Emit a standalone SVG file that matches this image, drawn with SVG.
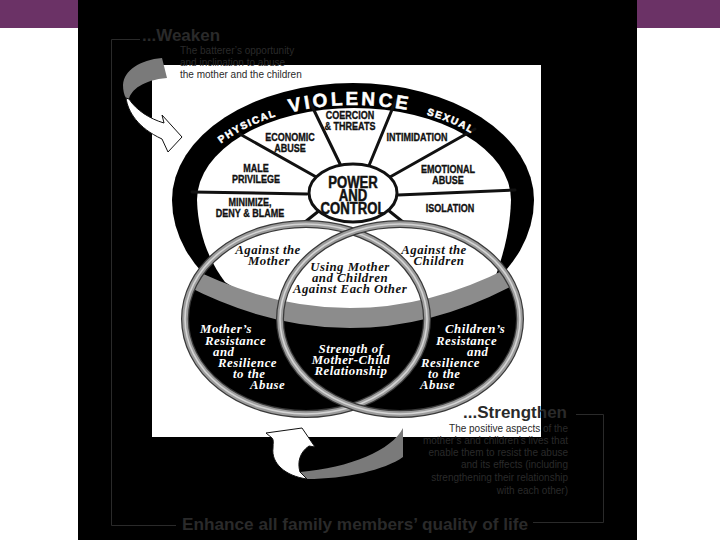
<svg xmlns="http://www.w3.org/2000/svg" width="720" height="540" viewBox="0 0 720 540">
<defs>
<style>
.wl{font-family:"Liberation Sans",Arial,sans-serif;font-weight:bold;font-size:11px;text-anchor:middle;fill:#111;stroke:#111;stroke-width:0.35px}
.pc{font-size:16px;stroke-width:0.5px}
.rt{font-family:"Liberation Sans",Arial,sans-serif;font-weight:bold;fill:#fff;stroke:#fff;stroke-width:0.5px;text-anchor:middle}
.ct{font-family:"Liberation Serif","DejaVu Serif",serif;font-weight:bold;font-style:italic;font-size:12.8px;letter-spacing:0.5px}
.cb{fill:#111;text-anchor:middle}
.cw{fill:#fff}
.dim{font-family:"Liberation Sans",Arial,sans-serif;fill:#2a2a2a}
.hd{font-weight:bold;font-size:17px}
.sm{font-size:10px;font-weight:normal}
.fr{fill:none;stroke:#2a2a2a;stroke-width:1}
.sp{stroke:#111;stroke-width:3;stroke-linecap:round}
.rim1{fill:none;stroke:#3a3a3a;stroke-width:8}
.rim2{fill:none;stroke:#9c9c9c;stroke-width:5.5}
.rim3{fill:none;stroke:#d4d4d4;stroke-width:1.6}
.arw{fill:#fff;stroke:#111;stroke-width:1}
.arg{fill:#7a7a7a}
</style>
<clipPath id="circ">
<ellipse cx="306" cy="319" rx="121" ry="95"/>
<ellipse cx="400" cy="319" rx="120" ry="95"/>
</clipPath>
<path id="inner" d="M 197,200 A 157,92 0 0 1 511,200 C 510,232 503,255 495,278 Q 357,372 225,282 C 210,262 198,235 197,200 Z"/>
<path id="ringpath" d="M 189,200 A 165,95 0 0 1 519,200"/>
</defs>

<rect x="0" y="0" width="720" height="540" fill="#fff"/>
<rect x="0" y="0" width="78" height="28" fill="#6b3266"/>
<rect x="637" y="0" width="83" height="28" fill="#6b3266"/>
<rect x="78" y="0" width="559" height="540" fill="#000"/>
<rect x="152" y="65" width="389" height="372" fill="#fff"/>

<g id="frame">
<polyline class="fr" points="140,39.5 111.5,39.5 111.5,525.5 176,525.5"/>
<polyline class="fr" points="576,414.5 603.5,414.5 603.5,522.5 533,522.5"/>
</g>

<g id="wheel">
<path d="M 172,200 A 181,117 0 0 1 534,200 A 181,131 0 0 1 172,200 Z" fill="#000"/>
<use href="#inner" fill="#fff"/>
<g id="spokes">
<line class="sp" x1="342" y1="168" x2="309" y2="100"/>
<line class="sp" x1="368" y1="168" x2="396" y2="100"/>
<line class="sp" x1="390" y1="177" x2="475" y2="129"/>
<line class="sp" x1="398" y1="195" x2="515" y2="190"/>
<line class="sp" x1="318" y1="178" x2="238" y2="133"/>
<line class="sp" x1="307" y1="194" x2="192" y2="192"/>
<line class="sp" x1="320" y1="210" x2="300" y2="226"/>
<line class="sp" x1="388" y1="210" x2="408" y2="226"/>
</g>
<ellipse cx="353" cy="193" rx="44" ry="29" fill="#fff" stroke="#111" stroke-width="3"/>
<text class="rt" font-size="19" letter-spacing="3"><textPath href="#ringpath" startOffset="49%">VIOLENCE</textPath></text>
<text class="rt" font-size="10" letter-spacing="1.5"><textPath href="#ringpath" startOffset="23.7%">PHYSICAL</textPath></text>
<text class="rt" font-size="10" letter-spacing="1.5"><textPath href="#ringpath" startOffset="73.6%">SEXUAL</textPath></text>
<text class="wl" transform="translate(350 0) scale(0.82 1)"><tspan x="0" y="119">COERCION</tspan><tspan x="0" y="130">&amp; THREATS</tspan></text>
<text class="wl" transform="translate(290 0) scale(0.82 1)"><tspan x="0" y="141">ECONOMIC</tspan><tspan x="0" y="152">ABUSE</tspan></text>
<text class="wl" transform="translate(417 0) scale(0.82 1)"><tspan x="0" y="141">INTIMIDATION</tspan></text>
<text class="wl" transform="translate(448 0) scale(0.82 1)"><tspan x="0" y="173">EMOTIONAL</tspan><tspan x="0" y="184">ABUSE</tspan></text>
<text class="wl" transform="translate(450 0) scale(0.82 1)"><tspan x="0" y="212">ISOLATION</tspan></text>
<text class="wl" transform="translate(256 0) scale(0.82 1)"><tspan x="0" y="172">MALE</tspan><tspan x="0" y="183">PRIVILEGE</tspan></text>
<text class="wl" transform="translate(250 0) scale(0.82 1)"><tspan x="0" y="206">MINIMIZE,</tspan><tspan x="0" y="217">DENY &amp; BLAME</tspan></text>
<text class="wl pc" transform="translate(353 0) scale(0.82 1)"><tspan x="0" y="188">POWER</tspan><tspan x="0" y="201">AND</tspan><tspan x="0" y="214">CONTROL</tspan></text>
</g>

<g id="circles">
<g clip-path="url(#circ)">
<rect x="180" y="215" width="345" height="210" fill="#000"/>
<use href="#inner" fill="#fff"/>
<path d="M 170,257 Q 357,362.5 540,250 L 540,270 Q 357,382.5 170,277 Z" fill="#8c8c8c"/>
</g>
<ellipse class="rim1" cx="306" cy="319" rx="121" ry="95"/>
<ellipse class="rim2" cx="306" cy="319" rx="121" ry="95"/>
<ellipse class="rim3" cx="306" cy="319" rx="121" ry="95"/>
<ellipse class="rim1" cx="400" cy="319" rx="120" ry="95"/>
<ellipse class="rim2" cx="400" cy="319" rx="120" ry="95"/>
<ellipse class="rim3" cx="400" cy="319" rx="120" ry="95"/>
<g class="ct">
<text class="cb"><tspan x="268" y="254">Against the</tspan><tspan x="269" y="265">Mother</tspan></text>
<text class="cb"><tspan x="434" y="254">Against the</tspan><tspan x="439" y="265">Children</tspan></text>
<text class="cb"><tspan x="350" y="271">Using Mother</tspan><tspan x="350" y="282">and Children</tspan><tspan x="350" y="293">Against Each Other</tspan></text>
<text class="cw"><tspan x="200" y="333">Mother’s</tspan><tspan x="205" y="345">Resistance</tspan><tspan x="213" y="356">and</tspan><tspan x="218" y="367">Resilience</tspan><tspan x="233" y="378">to the</tspan><tspan x="250" y="389">Abuse</tspan></text>
<text class="cw" text-anchor="middle"><tspan x="351" y="353">Strength of</tspan><tspan x="351" y="364">Mother-Child</tspan><tspan x="351" y="375">Relationship</tspan></text>
<text class="cw"><tspan x="445" y="333">Children’s</tspan><tspan x="436" y="345">Resistance</tspan><tspan x="467" y="356">and</tspan><tspan x="421" y="367">Resilience</tspan><tspan x="428" y="378">to the</tspan><tspan x="420" y="389">Abuse</tspan></text>
</g>
</g>

<g id="arrow-top">
<path class="arg" d="M 162,58 C 140,60 124,70 123,85 C 123,90 124,95 126,98 L 129,99 C 131,90 143,80 167,78 Z"/>
<path class="arw" d="M 126,98 C 128,112 138,128 162,139 L 168,152 L 182,137 L 162,115 L 164,123 C 150,119 136,110 129,99 Z"/>
</g>
<g id="arrow-bottom">
<path class="arg" d="M 403,428 L 403,457 C 385,470 345,479 307,479 L 300,472 C 350,468 392,450 403,428 Z"/>
<path class="arw" d="M 307,479 C 285,476 271,463 273,448 C 273,443 274,440 272,438 L 266,433 L 302,428 L 315,447 L 309,446 C 300,452 297,462 300,472 Z"/>
</g>

<text id="weaken" class="dim hd"><tspan x="142" y="41">...Weaken</tspan><tspan class="sm" x="180" y="54">The batterer’s opportunity</tspan><tspan class="sm" x="180" y="66">and inclination to abuse</tspan><tspan class="sm" x="180" y="78">the mother and the children</tspan></text>
<text id="strengthen" class="dim hd" text-anchor="end"><tspan x="567" y="418">...Strengthen</tspan><tspan class="sm" x="568" y="432">The positive aspects of the</tspan><tspan class="sm" x="568" y="444">mother’s and children’s lives that</tspan><tspan class="sm" x="568" y="456">enable them to resist the abuse</tspan><tspan class="sm" x="568" y="468">and its effects (including</tspan><tspan class="sm" x="568" y="481">strengthening their relationship</tspan><tspan class="sm" x="568" y="494">with each other)</tspan></text>
<text id="enhance" class="dim hd" x="182" y="530" textLength="346" lengthAdjust="spacingAndGlyphs">Enhance all family members’ quality of life</text>
</svg>
